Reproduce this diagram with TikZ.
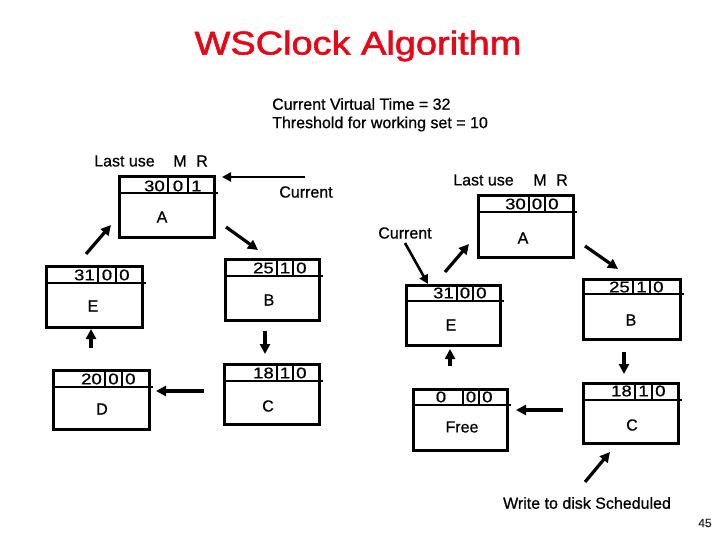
\documentclass[tikz,border=0pt]{standalone}
\usepackage{fontspec}
\setmainfont[FakeBold=0.7]{Liberation Sans}
\newfontfamily\titlefont[FakeBold=1.6]{Liberation Sans}
\usetikzlibrary{arrows.meta,fit}
\definecolor{titlered}{RGB}{230,8,24}
\newcommand\pbox[8]{%
  \node[boxframe, fit={(#2,#3) (#4,#5)}] (#1) {};
  \draw[stripline] (#2,#6) -- ({#4+4},#6);
  \draw[divline] (#7,#3) -- (#7,#6);
  \draw[divline] (#8,#3) -- (#8,#6);
}
\newcommand\pvals[7]{%
  \node[valtext, anchor=east] (#1-lu) at ({#2-3},#4) {\scalebox{1.2}[1]{#5}};
  \node[valtext] (#1-m) at ({(#2+#3)/2},#4) {\scalebox{1.2}[1]{#6}};
  \node[valtext, anchor=west] (#1-r) at ({#3+3},#4) {\scalebox{1.2}[1]{#7}};
}
\begin{document}
\begin{tikzpicture}[x=1pt,y=-1pt,
  boxframe/.style={draw, line width=3pt, inner sep=0pt},
  stripline/.style={line width=2.5pt},
  divline/.style={line width=2pt},
  valtext/.style={inner sep=0pt, font=\fontsize{15.5}{17}\selectfont},
  lbl/.style={inner sep=0pt, font=\fontsize{16}{18}\selectfont},
  arr/.style={line width=3.2pt, -{Triangle[length=10pt,width=10pt]}},
  thinarr/.style={line width=2.6pt, -{Triangle[length=9pt,width=9pt]}}]
\useasboundingbox (0,0) rectangle (720,540);
\fill[white] (0,0) rectangle (720,540);

% title and header
\node[inner sep=0pt, text=titlered, font=\titlefont\fontsize{33}{38}\selectfont] (title) at (358,46) {\scalebox{1.15}[1]{WSClock Algorithm}};
\node[lbl, anchor=west] (cvt) at (272,104) {Current Virtual Time = 32};
\node[lbl, anchor=west] (thr) at (272,124) {Threshold for working set = 10};

% ---------- left clock ----------
\node[lbl] (LA-h1) at (124.5,161) {Last use};
\node[lbl] (LA-h2) at (180,161) {M};
\node[lbl] (LA-h3) at (202,161) {R};
\pbox{LA}{119}{177}{214}{237}{193}{168}{188}
\pvals{LA}{168}{188}{186}{30}{0}{1}
\node[lbl] (LA-l) at (162,217) {A};

\pbox{LB}{225}{259}{319}{320}{276}{277}{293}
\pvals{LB}{277}{293}{268}{25}{1}{0}
\node[lbl] (LB-l) at (269,300) {B};

\pbox{LE}{46}{266}{142}{327}{283}{98}{116}
\pvals{LE}{98}{116}{275}{31}{0}{0}
\node[lbl] (LE-l) at (93,306) {E};

\pbox{LD}{53}{370}{149}{429}{387}{105}{122}
\pvals{LD}{105}{122}{379}{20}{0}{0}
\node[lbl] (LD-l) at (102,409) {D};

\pbox{LC}{224}{364}{319}{424}{381}{277}{293}
\pvals{LC}{277}{293}{373}{18}{1}{0}
\node[lbl] (LC-l) at (268,406) {C};

\node[lbl] (cur1) at (306,192) {Current};
\coordinate (c1s) at (305,177); \coordinate (c1e) at (222,177);
\draw[thinarr] (c1s) -- (c1e);
\coordinate (a1s) at (226,227); \coordinate (a1e) at (258,250);
\draw[arr] (a1s) -- (a1e);
\coordinate (a2s) at (86,254); \coordinate (a2e) at (111,225);
\draw[arr] (a2s) -- (a2e);
\coordinate (a3s) at (265,331); \coordinate (a3e) at (265,354);
\draw[arr] (a3s) -- (a3e);
\coordinate (a4s) at (204,391); \coordinate (a4e) at (156,391);
\draw[arr] (a4s) -- (a4e);
\coordinate (a5s) at (91,348); \coordinate (a5e) at (91,329);
\draw[arr] (a5s) -- (a5e);

% ---------- right clock ----------
\node[lbl] (RA-h1) at (483.5,180) {Last use};
\node[lbl] (RA-h2) at (540,180) {M};
\node[lbl] (RA-h3) at (562,180) {R};
\pbox{RA}{478}{196}{573}{257}{212}{529}{545}
\pvals{RA}{529}{545}{204}{30}{0}{0}
\node[lbl] (RA-l) at (523,238) {A};

\pbox{RE}{406}{285}{500}{345}{301}{457}{473}
\pvals{RE}{457}{473}{293}{31}{0}{0}
\node[lbl] (RE-l) at (451,325) {E};

\pbox{RB}{583}{279}{680}{339}{294}{633}{650}
\pvals{RB}{633}{650}{287}{25}{1}{0}
\node[lbl] (RB-l) at (631,320) {B};

\pbox{RF}{413}{389}{507}{450}{405}{463}{479}
\node[valtext] (RF-lu) at (441,397) {\scalebox{1.2}[1]{0}};
\node[valtext] (RF-m) at (471,397) {\scalebox{1.2}[1]{0}};
\node[valtext, anchor=west] (RF-r) at (482,397) {\scalebox{1.2}[1]{0}};
\node[lbl] (RF-l) at (462,427) {Free};

\pbox{RC}{583}{383}{678}{443}{400}{635}{652}
\pvals{RC}{635}{652}{391}{18}{1}{0}
\node[lbl] (RC-l) at (632,425) {C};

\node[lbl] (cur2) at (405,233) {Current};
\coordinate (c2s) at (405,243); \coordinate (c2e) at (428,284);
\draw[thinarr] (c2s) -- (c2e);
\coordinate (b1s) at (445,272); \coordinate (b1e) at (469,244);
\draw[arr] (b1s) -- (b1e);
\coordinate (b2s) at (585,246); \coordinate (b2e) at (618,269);
\draw[arr] (b2s) -- (b2e);
\coordinate (b3s) at (624,352); \coordinate (b3e) at (624,374);
\draw[arr] (b3s) -- (b3e);
\coordinate (b4s) at (563,410); \coordinate (b4e) at (516,410);
\draw[arr] (b4s) -- (b4e);
\coordinate (b5s) at (450,366); \coordinate (b5e) at (450,349);
\draw[arr] (b5s) -- (b5e);
\coordinate (b6s) at (585,482); \coordinate (b6e) at (610,452);
\draw[arr] (b6s) -- (b6e);

\node[lbl] (wds) at (587,503) {Write to disk Scheduled};
\node[inner sep=0pt, font=\fontsize{12}{14}\selectfont, text=black!85] (pg) at (705,523) {45};
\end{tikzpicture}
\end{document}
